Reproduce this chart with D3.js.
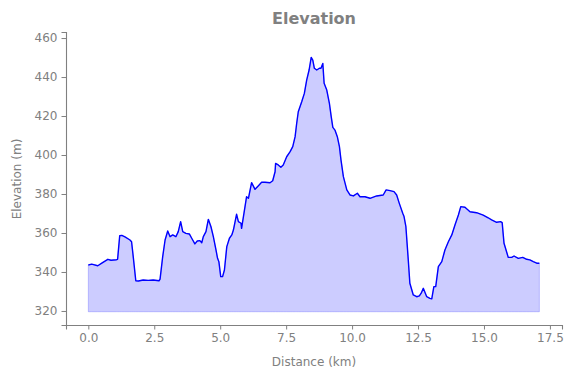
<!DOCTYPE html>
<html>
<head>
<meta charset="utf-8">
<script src="https://cdn.jsdelivr.net/npm/d3@7"></script>
<style>
  html, body { margin: 0; padding: 0; background: #fff; }
  svg { display: block; font-family: "DejaVu Sans", sans-serif; }
</style>
</head>
<body>
<svg id="chart" width="575" height="378"></svg>
<script>
const distanceKm = [0.00,0.13,0.36,0.51,0.74,0.86,1.07,1.11,1.19,1.27,1.39,1.58,1.64,1.71,1.80,1.90,2.08,2.27,2.46,2.68,2.72,2.82,2.91,3.01,3.10,3.20,3.32,3.41,3.50,3.58,3.70,3.83,3.92,4.04,4.13,4.23,4.30,4.36,4.46,4.55,4.65,4.74,4.84,4.90,4.95,5.02,5.09,5.16,5.25,5.35,5.44,5.50,5.62,5.69,5.79,5.81,5.90,6.00,6.07,6.19,6.32,6.44,6.57,6.70,6.89,6.99,7.08,7.10,7.20,7.30,7.39,7.52,7.65,7.75,7.84,7.90,7.96,8.09,8.19,8.28,8.37,8.45,8.51,8.57,8.66,8.76,8.82,8.89,8.94,9.04,9.14,9.21,9.27,9.35,9.44,9.52,9.58,9.67,9.80,9.92,10.05,10.20,10.30,10.49,10.68,10.93,11.18,11.29,11.44,11.59,11.69,11.79,11.92,11.97,12.04,12.13,12.19,12.32,12.45,12.55,12.62,12.70,12.83,12.95,13.02,13.10,13.17,13.27,13.40,13.52,13.65,13.78,13.90,14.03,14.12,14.28,14.47,14.72,14.97,15.16,15.29,15.48,15.63,15.69,15.76,15.92,16.05,16.14,16.30,16.47,16.62,16.74,16.87,17.00,17.10];
const elevationM = [343.6,344.0,343.2,344.5,346.5,346.0,346.3,346.5,358.6,358.8,358.0,356.4,355.5,347.0,335.5,335.4,335.9,335.7,335.9,335.5,336.3,347.9,356.4,361.0,358.1,359.0,358.1,360.7,365.8,360.7,359.8,359.5,357.3,354.4,355.9,356.1,355.0,358.1,360.7,367.0,363.2,358.1,351.3,347.0,345.3,337.6,337.6,341.0,353.0,357.3,359.0,361.5,369.6,365.8,365.0,362.4,370.1,378.6,377.8,385.8,382.4,384.1,386.0,386.0,385.8,386.8,391.4,395.7,394.9,393.7,394.9,399.1,401.7,404.3,409.4,416.3,422.2,427.3,431.6,438.5,443.6,450.1,448.7,444.5,443.6,444.5,444.5,447.0,436.8,433.3,426.5,419.6,414.2,412.8,409.4,404.3,397.4,388.9,382.1,379.5,379.0,380.4,378.6,378.6,377.8,379.0,379.5,382.1,381.7,381.2,379.5,375.2,370.1,368.4,363.2,346.2,334.2,328.2,327.3,327.7,329.1,331.6,327.3,326.5,326.2,332.5,332.5,342.7,345.3,351.3,355.5,359.0,364.1,369.2,373.5,373.2,370.9,370.4,369.2,367.8,366.7,365.5,365.8,365.3,354.7,347.5,347.5,348.2,347.0,347.5,346.5,346.2,345.3,344.5,344.5,344.5];
const xTicks = [0, 2.5, 5, 7.5, 10, 12.5, 15, 17.5];
const yTicks = [320, 340, 360, 380, 400, 420, 440, 460];
const fillBase = 319.6;

const grey = "#808080";
const svg = d3.select("#chart");

const x = d3.scaleLinear().domain([-0.846, 17.958]).range([66, 562]);
const y = d3.scaleLinear().domain([312.8, 463.1]).range([325, 32]);

const data = distanceKm.map((d, i) => ({ d, e: elevationM[i] }));

const area = d3.area().x(p => x(p.d)).y0(y(fillBase)).y1(p => y(p.e));
const line = d3.line().x(p => x(p.d)).y(p => y(p.e));

svg.append("path").datum(data).attr("d", area)
  .attr("fill", "rgba(0,0,255,0.2)").attr("stroke", "rgba(0,0,255,0.2)").attr("stroke-width", 1);
svg.append("path").datum(data).attr("d", line)
  .attr("fill", "none").attr("stroke", "#0000ff").attr("stroke-width", 1.4).attr("stroke-linejoin", "round");

const xAxis = svg.append("g").attr("transform", "translate(0,325)")
  .call(d3.axisBottom(x).tickValues(xTicks).tickFormat(d3.format(".1f")).tickSizeOuter(0).tickSize(4.5).tickPadding(4));
const yAxis = svg.append("g").attr("transform", "translate(66,0)")
  .call(d3.axisLeft(y).tickValues(yTicks).tickFormat(d3.format("d")).tickSizeOuter(0).tickSize(4.5).tickPadding(4));

[xAxis, yAxis].forEach(g => {
  g.select(".domain").attr("stroke", grey).attr("stroke-width", 1.1);
  g.selectAll(".tick line").attr("stroke", grey).attr("stroke-width", 1);
  g.selectAll(".tick text").attr("fill", grey).style("font-size", "12px").style("font-family", "DejaVu Sans, sans-serif");
});

svg.append("text").attr("x", 314).attr("y", 24).attr("text-anchor", "middle")
  .attr("fill", grey).style("font-size", "16px").style("font-weight", "bold").text("Elevation");
svg.append("text").attr("x", 314).attr("y", 366).attr("text-anchor", "middle")
  .attr("fill", grey).style("font-size", "12px").text("Distance (km)");
svg.append("text").attr("transform", "translate(21,179) rotate(-90)").attr("text-anchor", "middle")
  .attr("fill", grey).style("font-size", "12px").text("Elevation (m)");
</script>
</body>
</html>
